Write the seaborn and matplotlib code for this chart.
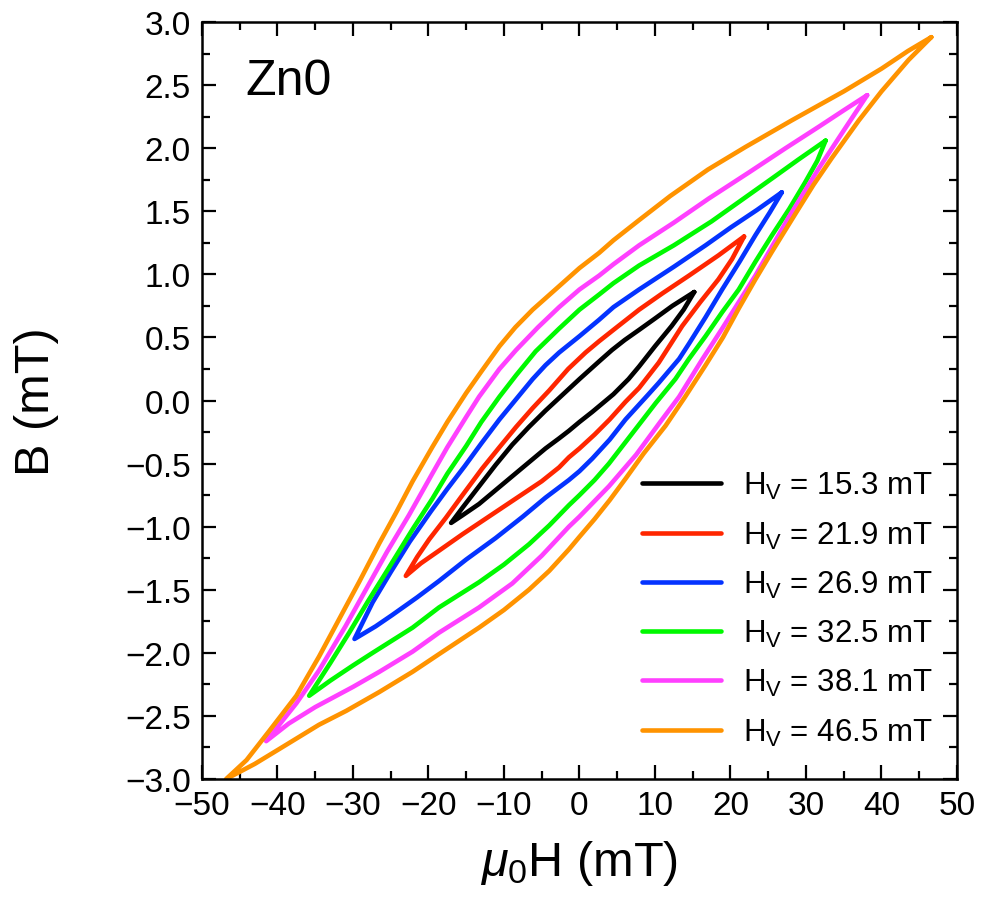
import matplotlib
matplotlib.use("Agg")
import matplotlib.pyplot as plt
import pandas as pd
import seaborn as sns
from matplotlib.ticker import MultipleLocator

# field amplitudes (legend) and loop colours
amplitudes = ["15.3", "21.9", "26.9", "32.5", "38.1", "46.5"]
colors = ["#000000", "#ff2600", "#0433ff", "#00f900", "#ff40ff", "#ff9300"]

# branch: sweep from +H tip down to -H tip (upper branch)
h_up_153 = [15.2, 12.3, 10.0, 7.9, 6.0, 4.3, 2.6, 0.0, -1.8, -4.5, -6.7, -8.9, -11.1, -13.3, -15.5, -17.0]
b_up_153 = [0.86, 0.75, 0.65, 0.56, 0.48, 0.40, 0.31, 0.17, 0.07, -0.08, -0.21, -0.35, -0.51, -0.68, -0.85, -0.97]
# sweep from -H tip back up to +H tip (lower branch)
h_dn_153 = [-17.0, -15.5, -13.3, -11.1, -8.9, -6.7, -4.5, -2.7, -1.4, 0.0, 1.7, 4.5, 6.5, 7.9, 10.0, 12.2, 13.8, 15.2]
b_dn_153 = [-0.97, -0.91, -0.82, -0.71, -0.60, -0.49, -0.38, -0.30, -0.24, -0.17, -0.09, 0.05, 0.17, 0.27, 0.43, 0.59, 0.72, 0.86]

h_up_219 = [21.8, 18.4, 14.5, 11.0, 7.9, 4.5, 2.6, 0.8, -1.5, -4.0, -6.2, -8.4, -10.6, -12.9, -15.5, -17.7, -19.9, -21.5, -23.0]
b_up_219 = [1.30, 1.15, 0.99, 0.85, 0.72, 0.56, 0.47, 0.38, 0.25, 0.08, -0.06, -0.21, -0.37, -0.54, -0.75, -0.93, -1.10, -1.24, -1.39]
h_dn_219 = [-23.0, -21.0, -18.6, -15.5, -12.0, -8.5, -5.0, -2.7, -1.4, 0.0, 2.0, 4.0, 6.1, 7.9, 10.5, 12.0, 13.6, 16.0, 18.4, 20.2, 21.8]
b_dn_219 = [-1.39, -1.29, -1.19, -1.06, -0.92, -0.78, -0.64, -0.53, -0.45, -0.38, -0.27, -0.15, -0.01, 0.10, 0.30, 0.44, 0.59, 0.78, 0.96, 1.12, 1.30]

h_up_269 = [26.8, 23.5, 20.0, 16.7, 12.5, 7.9, 4.5, 2.6, 0.0, -2.7, -4.5, -6.2, -8.4, -10.6, -13.0, -15.2, -17.5, -19.7, -22.5, -25.0, -27.4, -29.8]
b_up_269 = [1.65, 1.51, 1.37, 1.23, 1.06, 0.88, 0.74, 0.64, 0.51, 0.38, 0.28, 0.17, 0.01, -0.15, -0.34, -0.52, -0.70, -0.88, -1.12, -1.36, -1.60, -1.89]
h_dn_269 = [-29.8, -27.0, -24.8, -21.5, -18.6, -15.0, -11.1, -7.5, -4.5, -1.4, 0.0, 1.7, 4.0, 6.1, 9.0, 10.5, 13.2, 14.5, 16.7, 18.9, 21.2, 23.3, 25.2, 26.8]
b_dn_269 = [-1.89, -1.79, -1.70, -1.56, -1.43, -1.26, -1.09, -0.92, -0.77, -0.63, -0.56, -0.46, -0.31, -0.15, 0.04, 0.14, 0.33, 0.45, 0.66, 0.88, 1.10, 1.31, 1.49, 1.65]

h_up_325 = [32.6, 29.0, 25.5, 21.5, 17.5, 12.5, 7.9, 4.5, 2.6, 0.0, -2.7, -5.8, -8.4, -10.6, -13.0, -15.0, -17.5, -19.5, -22.1, -25.6, -28.0, -30.5, -33.0, -35.8]
b_up_325 = [2.06, 1.91, 1.76, 1.59, 1.42, 1.23, 1.07, 0.93, 0.84, 0.72, 0.57, 0.39, 0.20, 0.03, -0.17, -0.36, -0.58, -0.78, -1.02, -1.36, -1.59, -1.84, -2.08, -2.34]
h_dn_325 = [-35.8, -33.0, -30.0, -27.4, -22.1, -18.6, -13.3, -10.0, -6.7, -4.0, -1.4, 0.0, 2.0, 3.9, 7.0, 10.1, 12.7, 14.5, 16.7, 18.9, 21.1, 23.3, 25.5, 27.8, 29.9, 31.5, 32.6]
b_dn_325 = [-2.34, -2.22, -2.10, -2.00, -1.80, -1.64, -1.44, -1.30, -1.14, -0.99, -0.83, -0.75, -0.63, -0.50, -0.26, -0.02, 0.17, 0.33, 0.51, 0.70, 0.88, 1.10, 1.31, 1.52, 1.73, 1.90, 2.06]

h_up_381 = [38.1, 35.0, 31.7, 27.3, 22.5, 17.1, 12.5, 7.9, 4.5, 2.6, 0.0, -2.7, -5.5, -8.4, -10.6, -13.3, -15.0, -17.5, -19.5, -22.6, -25.5, -28.3, -31.0, -34.5, -37.5, -41.5]
b_up_381 = [2.42, 2.30, 2.17, 2.00, 1.81, 1.60, 1.41, 1.23, 1.08, 0.99, 0.88, 0.74, 0.58, 0.40, 0.25, 0.03, -0.13, -0.37, -0.58, -0.91, -1.20, -1.50, -1.79, -2.14, -2.40, -2.70]
h_dn_381 = [-41.5, -38.5, -35.0, -30.0, -26.5, -22.1, -18.6, -13.3, -8.9, -5.0, -1.4, 0.0, 3.9, 7.5, 10.7, 13.2, 16.2, 18.9, 23.3, 27.7, 31.7, 35.0, 38.1]
b_dn_381 = [-2.70, -2.56, -2.43, -2.27, -2.15, -1.99, -1.84, -1.64, -1.45, -1.23, -1.00, -0.92, -0.68, -0.43, -0.17, 0.03, 0.32, 0.57, 0.99, 1.45, 1.84, 2.14, 2.42]

h_up_465 = [46.6, 43.5, 40.0, 35.0, 28.1, 22.0, 17.0, 12.0, 7.9, 4.5, 2.6, 0.0, -3.0, -6.2, -8.5, -10.6, -13.0, -15.0, -17.5, -19.5, -22.1, -24.3, -26.5, -29.2, -31.0, -34.5, -37.5, -41.1, -44.1, -46.8]
b_up_465 = [2.88, 2.77, 2.63, 2.45, 2.22, 2.01, 1.83, 1.62, 1.43, 1.27, 1.17, 1.05, 0.89, 0.72, 0.58, 0.43, 0.23, 0.06, -0.17, -0.37, -0.64, -0.89, -1.13, -1.44, -1.64, -2.03, -2.34, -2.62, -2.85, -3.0]
h_dn_465 = [-46.8, -43.0, -39.7, -34.5, -30.9, -26.5, -22.1, -18.6, -13.3, -10.0, -6.7, -4.0, -1.4, 0.0, 2.0, 4.0, 6.1, 8.5, 11.4, 14.0, 16.7, 19.0, 21.1, 23.3, 25.5, 28.6, 31.0, 33.4, 37.0, 40.0, 43.6, 46.6]
b_dn_465 = [-3.0, -2.88, -2.76, -2.57, -2.46, -2.31, -2.15, -2.01, -1.80, -1.66, -1.50, -1.35, -1.18, -1.08, -0.94, -0.79, -0.62, -0.42, -0.20, 0.03, 0.28, 0.50, 0.73, 0.96, 1.18, 1.48, 1.71, 1.92, 2.22, 2.45, 2.70, 2.88]

branches = [
    (h_up_153, b_up_153, h_dn_153, b_dn_153),
    (h_up_219, b_up_219, h_dn_219, b_dn_219),
    (h_up_269, b_up_269, h_dn_269, b_dn_269),
    (h_up_325, b_up_325, h_dn_325, b_dn_325),
    (h_up_381, b_up_381, h_dn_381, b_dn_381),
    (h_up_465, b_up_465, h_dn_465, b_dn_465),
]

frames = []
for amp, (hu, bu, hd, bd) in zip(amplitudes, branches):
    label = r"H$_\mathregular{V}$ = " + amp + " mT"
    frames.append(pd.DataFrame({"H": hu + hd, "B": bu + bd, "loop": label}))
df = pd.concat(frames, ignore_index=True)

sns.set_style("ticks")
plt.rcParams["font.family"] = ["Liberation Sans", "DejaVu Sans"]
plt.rcParams["mathtext.fontset"] = "custom"
plt.rcParams["mathtext.rm"] = "Liberation Sans"
plt.rcParams["mathtext.it"] = "Liberation Sans:italic"
for key in ["text.color", "axes.labelcolor", "xtick.color", "ytick.color", "axes.edgecolor"]:
    plt.rcParams[key] = "black"

fig = plt.figure(figsize=(9.81, 9.03), dpi=100)
ax = fig.add_axes([0.2059, 0.1362, 0.7696, 0.8383])

sns.lineplot(data=df, x="H", y="B", hue="loop", palette=colors, sort=False,
             estimator=None, linewidth=3.3, solid_joinstyle="round",
             solid_capstyle="round", ax=ax)

ax.set_xlim(-50, 50)
ax.set_ylim(-3, 3)
ax.xaxis.set_major_locator(MultipleLocator(10))
ax.xaxis.set_minor_locator(MultipleLocator(5))
ax.yaxis.set_major_locator(MultipleLocator(0.5))
ax.yaxis.set_minor_locator(MultipleLocator(0.25))

for side in ax.spines.values():
    side.set_linewidth(1.8)
ax.tick_params(which="both", direction="in", top=True, right=True, width=1.6,
               labelsize=24)
ax.tick_params(which="major", length=10, pad=8)
ax.tick_params(which="minor", length=5.5)

ax.set_xlabel(r"$\mathit{\mu}_\mathregular{0}$H (mT)", fontsize=35)
ax.set_ylabel("B (mT)", fontsize=35)
ax.xaxis.set_label_coords(0.5, -0.078)
ax.yaxis.set_label_coords(-0.19, 0.5)

ax.text(0.058, 0.952, "Zn0", transform=ax.transAxes, fontsize=36,
        ha="left", va="top")

handles, labels = ax.get_legend_handles_labels()
ax.legend(handles, labels, loc="lower right", bbox_to_anchor=(0.985, 0.025),
          frameon=False, fontsize=22.5, handlelength=2.55, handletextpad=0.7,
          labelspacing=0.58, borderaxespad=0)

fig.savefig("out.png", dpi=100)
